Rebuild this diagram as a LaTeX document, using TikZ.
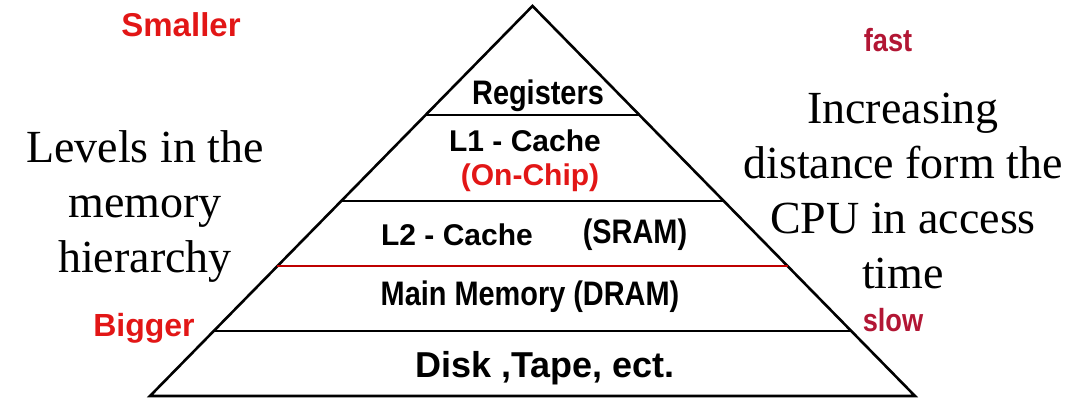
\documentclass[tikz,border=0pt]{standalone}
\usepackage{fontspec}
\setmainfont{Liberation Serif}
\newfontfamily\narrowfont[FakeStretch=0.85]{Liberation Sans}
\newfontfamily\roundfont{Liberation Sans}
\usetikzlibrary{calc}
\definecolor{labelred}{RGB}{226,22,22}
\definecolor{speedred}{RGB}{178,22,52}
\tikzset{
  pyramid/.style={draw=black, line width=2.6pt, line join=miter},
  divider/.style={draw=black, line width=2pt},
  splitline/.style={draw=red!75!black, line width=1.6pt},
  narrowlabel/.style={font=\narrowfont\bfseries\fontsize{34}{40}\selectfont, inner sep=0pt},
  roundlabel/.style={font=\roundfont\bfseries\fontsize{30}{36}\selectfont, inner sep=0pt},
  sidetext/.style={font=\fontsize{46}{55}\selectfont, align=center, inner sep=0pt},
}

\begin{document}
\begin{tikzpicture}[x=1pt, y=-1pt]
  \useasboundingbox (0,0) rectangle (1068,399);
  % outline
  \coordinate (apex) at (532.5,6);
  \coordinate (bl) at (150,396);
  \coordinate (br) at (915,396);
  \draw[pyramid] (bl) -- (apex) -- (br) -- cycle;
  % level separators
  \draw[divider] ($(apex)!0.28!(bl)$) -- ($(apex)!0.28!(br)$);
  \draw[divider] ($(apex)!0.5!(bl)$) -- ($(apex)!0.5!(br)$);
  \draw[splitline] ($(apex)!0.667!(bl)$) -- ($(apex)!0.667!(br)$);
  \draw[divider] ($(apex)!0.833!(bl)$) -- ($(apex)!0.833!(br)$);

  \node[narrowlabel] (registers) at (538,96) {Registers};
  \node[roundlabel] (lonecache) at (525,141) {L1 - Cache};
  \node[roundlabel, text=labelred] (onchip) at (530,178) {(On-Chip)};
  \node[roundlabel] (ltwocache) at (457,235) {L2 - Cache};
  \node[narrowlabel] (sram) at (635,235) {(SRAM)};
  \node[narrowlabel] (mainmem) at (530,297) {Main Memory (DRAM)};
  \node[roundlabel, font=\roundfont\bfseries\fontsize{36}{40}\selectfont] (disk) at (545,368) {Disk ,Tape, ect.};

  \node[roundlabel, text=labelred, font=\roundfont\bfseries\fontsize{33}{40}\selectfont] (smaller) at (181,25) {Smaller};
  \node[roundlabel, text=labelred, font=\roundfont\bfseries\fontsize{32}{40}\selectfont] (bigger) at (144,328) {Bigger};
  \node[narrowlabel, text=speedred, font=\narrowfont\bfseries\fontsize{32}{40}\selectfont] (fast) at (888,40) {fast};
  \node[narrowlabel, text=speedred, font=\narrowfont\bfseries\fontsize{32}{40}\selectfont] (slow) at (893,320) {slow};

  \node[sidetext] (levels) at (145,207) {Levels in the\\memory\\hierarchy};
  \node[sidetext] (distance) at (903,191) {Increasing\\distance form the\\CPU in access\\time};
\end{tikzpicture}
\end{document}
